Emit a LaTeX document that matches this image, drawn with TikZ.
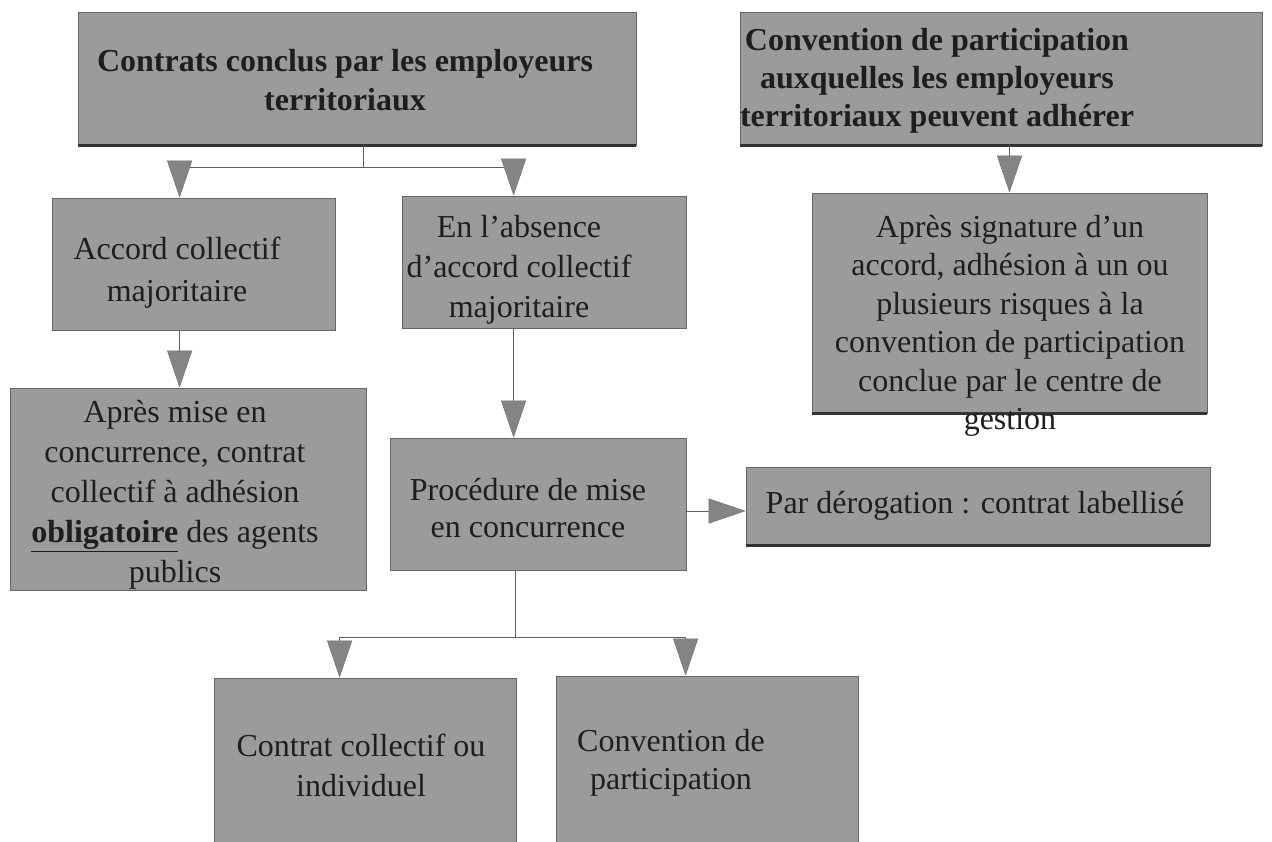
\documentclass[tikz,border=0pt]{standalone}
\usepackage{fontspec}
\setmainfont{Liberation Serif}
\usetikzlibrary{arrows.meta,calc}
\definecolor{boxgray}{RGB}{155,155,155}
\definecolor{arrgray}{RGB}{132,132,132}
\definecolor{linegray}{RGB}{95,95,95}
\definecolor{txt}{RGB}{30,30,30}
\begin{document}
\begin{tikzpicture}[x=1pt,y=-1pt,
  box/.style={draw=black!60, line width=0.8pt, fill=boxgray, inner sep=0pt},
  label/.style={align=center, inner sep=0pt, text=txt, font=\fontsize{32}{40}\selectfont},
  boldlabel/.style={label, font=\fontsize{32}{39}\selectfont\bfseries},
  shadowline/.style={line width=2.6pt, draw=black!80},
  conn/.style={draw=linegray, line width=0.8pt},
  arr/.style={conn, -{Triangle[width=25pt,length=37pt,fill=arrgray,color=black!55,line width=0.5pt]}}
]
\useasboundingbox (0,0) rectangle (1272,841);
\fill[white] (0,0) rectangle (1272,841);

% boxes
\node[box, minimum width=558pt, minimum height=133pt] (b1) at (357,78.5) {};
\node[box, minimum width=522pt, minimum height=133pt] (b2) at (1001,78.5) {};
\node[box, minimum width=283pt, minimum height=132pt] (accord) at (193.5,264) {};
\node[box, minimum width=284pt, minimum height=132pt] (absence) at (544,262) {};
\node[box, minimum width=356pt, minimum height=202pt] (apres) at (188,489) {};
\node[box, minimum width=296pt, minimum height=132pt] (proc) at (538,504) {};
\node[box, minimum width=395pt, minimum height=220pt] (sig) at (1009.5,303) {};
\node[box, minimum width=464pt, minimum height=78pt] (derog) at (978,506) {};
\node[box, minimum width=302pt, minimum height=182pt] (contrat) at (365,769) {};
\node[box, minimum width=302pt, minimum height=184pt] (conv) at (707,768) {};

% dark bottom edges
\draw[shadowline] (b1.south west) -- (b1.south east);
\draw[shadowline] (b2.south west) -- (b2.south east);
\draw[shadowline] (sig.south west) -- (sig.south east);
\draw[shadowline] (derog.south west) -- (derog.south east);

% texts
\node[boldlabel] (t1) at (345,80) {Contrats conclus par les employeurs\\territoriaux};
\node[boldlabel, font=\fontsize{32}{38}\selectfont\bfseries] (t2) at (937,81)
  {Convention de participation\\auxquelles les employeurs\\territoriaux peuvent adhérer};
\node[label, font=\fontsize{32}{42}\selectfont] (taccord) at (177,273) {Accord collectif\\majoritaire};
\node[label] (tabsence) at (519,270) {En l’absence\\d’accord collectif\\majoritaire};
\node[label] (tapres) at (175,495)
  {Après mise en\\concurrence, contrat\\collectif à adhésion\\\underline{\textbf{obligatoire}} des agents\\publics};
\node[label, font=\fontsize{32}{37}\selectfont] (tproc) at (528,508) {Procédure de mise\\en concurrence};
\node[label, font=\fontsize{32}{38.5}\selectfont] (tsig) at (1010,326)
  {Après signature d’un\\accord, adhésion à un ou\\plusieurs risques à la\\convention de participation\\conclue par le centre de\\gestion};
\node[label] (tderog) at (975,506) {Par dérogation : contrat labellisé};
\node[label] (tcontrat) at (361,765) {Contrat collectif ou\\individuel};
\node[label, font=\fontsize{32}{38}\selectfont] (tconv) at (671,763) {Convention de\\participation};

% connectors
\coordinate (j1) at ($([xshift=6pt]b1.south)+(0,22)$);
\draw[conn] ([xshift=6pt]b1.south) -- (j1);
\draw[arr] (j1) -| ([xshift=128pt]accord.north west);
\draw[arr] (j1) -| ([xshift=112pt]absence.north west);
\draw[arr] (sig.north |- b2.south) -- (sig.north);
\draw[arr] ([xshift=128pt]accord.south west) -- ([xshift=170pt]apres.north west);
\draw[arr] ([xshift=112pt]absence.south west) -- ([xshift=124pt]proc.north west);
\draw[arr] ([yshift=-7pt]proc.east) -- ([yshift=-5pt]derog.west);
\coordinate (j2) at ($([xshift=126pt]proc.south west)+(0,67)$);
\draw[conn] ([xshift=126pt]proc.south west) -- (j2);
\draw[arr] (j2) -| ([xshift=126pt]contrat.north west);
\draw[arr] (j2) -| ([xshift=130pt]conv.north west);
\end{tikzpicture}
\end{document}
